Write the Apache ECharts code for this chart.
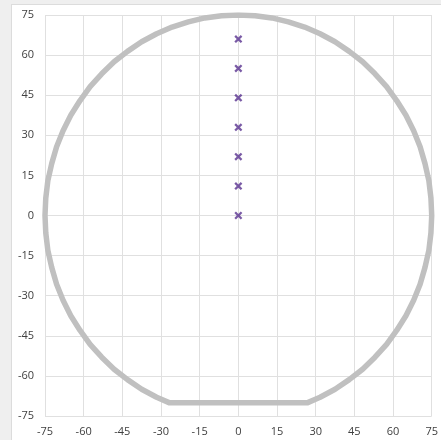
<!DOCTYPE html>
<html>
<head>
<meta charset="utf-8">
<script src="https://cdn.jsdelivr.net/npm/echarts@6/dist/echarts.min.js"></script>
<style>
html,body{margin:0;padding:0;background:#efefef;width:441px;height:440px;overflow:hidden;}
#frame{position:absolute;left:11px;top:4px;width:440px;height:440px;background:#fff;border:1px solid #dcdcdc;box-sizing:border-box;}
#chart{position:absolute;left:0;top:0;width:441px;height:440px;}
</style>
</head>
<body>
<div id="frame"></div>
<div id="chart"></div>
<script>
// Outline of the circle with a flat at the bottom
var outlineX = [0,6.5,13,19.4,25.7,31.7,37.5,43,48.2,53,57.5,61.4,65,68,70.5,72.4,73.9,74.7,75,
  74.7,73.9,72.4,70.5,68,65,61.4,57.5,53,48.2,43,37.5,31.7,26.9,
  -26.9,-31.7,-37.5,-43,-48.2,-53,-57.5,-61.4,-65,-68,-70.5,-72.4,-73.9,-74.7,-75,
  -74.7,-73.9,-72.4,-70.5,-68,-65,-61.4,-57.5,-53,-48.2,-43,-37.5,-31.7,-25.7,-19.4,-13,-6.5,0];
var outlineY = [75,74.7,73.9,72.4,70.5,68,65,61.4,57.5,53,48.2,43,37.5,31.7,25.7,19.4,13,6.5,0,
  -6.5,-13,-19.4,-25.7,-31.7,-37.5,-43,-48.2,-53,-57.5,-61.4,-65,-68,-70,
  -70,-68,-65,-61.4,-57.5,-53,-48.2,-43,-37.5,-31.7,-25.7,-19.4,-13,-6.5,0,
  6.5,13,19.4,25.7,31.7,37.5,43,48.2,53,57.5,61.4,65,68,70.5,72.4,73.9,74.7,75];
// Purple cross markers
var pointX = [0,0,0,0,0,0,0];
var pointY = [0,11,22,33,44,55,66];
// Axis ticks
var axisMin = -75, axisMax = 75, axisStep = 15;

var outline = outlineX.map(function(x,i){return [x, outlineY[i]];});
var points = pointX.map(function(x,i){return [x, pointY[i]];});

var gridColor = '#e0e0e0';
var labelStyle = {color:'#404040', fontSize:11, fontFamily:'Open Sans'};
function axis(extra){
  return Object.assign({
    type:'value', min:axisMin, max:axisMax, interval:axisStep,
    axisLine:{show:true, lineStyle:{color:gridColor, width:1}},
    axisTick:{show:false},
    splitLine:{show:true, lineStyle:{color:gridColor, width:1}},
    axisLabel:Object.assign({}, labelStyle)
  }, extra);
}
var chart = echarts.init(document.getElementById('chart'), null, {renderer:'canvas'});
chart.setOption({
  animation:false,
  backgroundColor:'transparent',
  grid:{left:45, top:15, right:6, bottom:24, containLabel:false},
  xAxis:axis({axisLabel:Object.assign({margin:10}, labelStyle)}),
  yAxis:axis({axisLabel:Object.assign({margin:11}, labelStyle)}),
  series:[
    {type:'line', data:outline, showSymbol:false, symbol:'none', smooth:false,
     lineStyle:{color:'#c0c0c0', width:5.5, join:'round', cap:'round'}, z:2},
    {type:'scatter', data:points,
     symbol:'path://M2,0 L5,3 L8,0 L10,2 L7,5 L10,8 L8,10 L5,7 L2,10 L0,8 L3,5 L0,2 Z',
     symbolSize:8, itemStyle:{color:'#58318f'}, z:3}
  ]
});
</script>
</body>
</html>
